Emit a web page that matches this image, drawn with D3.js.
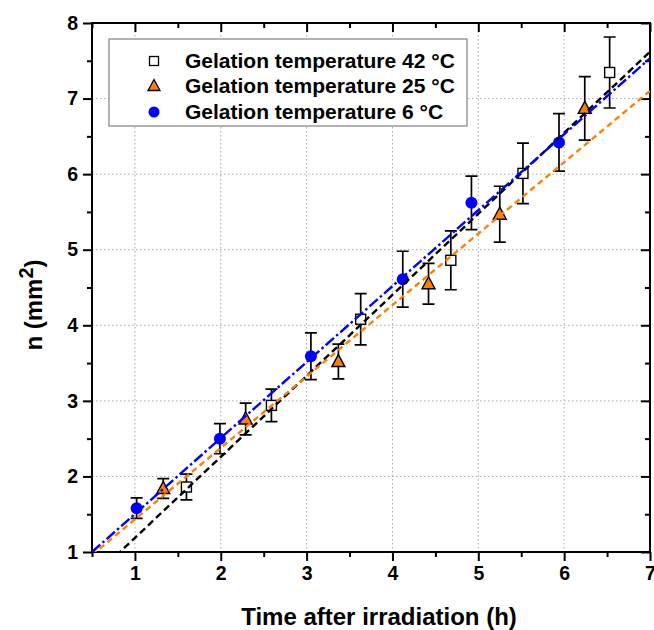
<!DOCTYPE html>
<html>
<head>
<meta charset="utf-8">
<script src="https://cdn.jsdelivr.net/npm/d3@7"></script>
<style>
  body { margin: 0; background: #fff; }
  text { font-family: "Liberation Sans", Arial, sans-serif; font-weight: bold; }
</style>
</head>
<body>
<div id="grafico"></div>
<script>
const margin = { top: 23, left: 92, bottom: 78, right: 4 };
const width  = 654 - margin.left - margin.right;
const height = 630 - margin.top - margin.bottom;

// Gelation temperature 42 °C
const time42 = [1.60, 2.59, 3.63, 4.68, 5.52, 6.53];
const n42    = [1.86, 2.94, 4.08, 4.86, 6.01, 7.345];
const err42  = [0.17, 0.215, 0.34, 0.39, 0.40, 0.47];

// Gelation temperature 25 °C
const time25 = [1.33, 2.29, 3.37, 4.42, 5.25, 6.24];
const n25    = [1.84, 2.76, 3.52, 4.55, 5.47, 6.87];
const err25  = [0.13, 0.21, 0.23, 0.27, 0.37, 0.42];

// Gelation temperature 6 °C
const time6 = [1.02, 1.99, 3.05, 4.12, 4.92, 5.94];
const n6    = [1.58, 2.50, 3.59, 4.61, 5.62, 6.42];
const err6  = [0.135, 0.20, 0.31, 0.37, 0.355, 0.38];

// linear fits: [intercept, slope]
const fit42 = [0.115, 1.072];
const fit25 = [0.487, 0.945];
const fit6  = [0.498, 1.005];

const xTicks = [1, 2, 3, 4, 5, 6, 7];
const yTicks = [1, 2, 3, 4, 5, 6, 7, 8];
const legendLabels = ["Gelation temperature 42 °C", "Gelation temperature 25 °C", "Gelation temperature 6 °C"];

const orange = "#ff8000";
const blue   = "#0000ff";

const svg = d3.select("#grafico")
              .append("svg")
              .attr("width", 654)
              .attr("height", 630)
              .append("g")
              .attr("transform", `translate(${margin.left}, ${margin.top})`);

const xScale = d3.scaleLinear().domain([0.5, 7]).range([0, width]);
const yScale = d3.scaleLinear().domain([1, 8]).range([height, 0]);

svg.append("defs").append("clipPath").attr("id", "clip")
   .append("rect").attr("width", width).attr("height", height);

// grid
const grid = svg.append("g")
                .attr("stroke", "#a8a8a8")
                .attr("stroke-width", 1)
                .attr("stroke-dasharray", "1.5,2.5");
grid.selectAll("line.gx")
    .data(xTicks.filter(d => d < 7))
    .join("line")
    .attr("x1", d => xScale(d)).attr("x2", d => xScale(d))
    .attr("y1", 0).attr("y2", height);
grid.selectAll("line.gy")
    .data(yTicks.filter(d => d > 1 && d < 8))
    .join("line")
    .attr("x1", 0).attr("x2", width)
    .attr("y1", d => yScale(d)).attr("y2", d => yScale(d));

// axes
const minorX = d3.range(0.5, 7.01, 0.5).filter(d => !xTicks.includes(d));
const minorY = d3.range(1.5, 8, 1);

function styleAxis(g) {
    g.select(".domain").remove();
    g.selectAll("line").attr("stroke", "#000").attr("stroke-width", 2);
    g.selectAll("text").attr("font-size", 19.5).attr("fill", "#000");
}

svg.append("g").attr("transform", `translate(0, ${height})`)
   .call(d3.axisBottom(xScale).tickValues(xTicks).tickFormat(d3.format("d")).tickSize(9).tickPadding(5))
   .call(styleAxis);
svg.append("g").attr("transform", `translate(0, ${height})`)
   .call(d3.axisBottom(xScale).tickValues(minorX).tickFormat("").tickSize(5))
   .call(styleAxis);
svg.append("g")
   .call(d3.axisLeft(yScale).tickValues(yTicks).tickFormat(d3.format("d")).tickSize(9).tickPadding(5))
   .call(styleAxis);
svg.append("g")
   .call(d3.axisLeft(yScale).tickValues(minorY).tickFormat("").tickSize(5))
   .call(styleAxis);
// top and right: ticks inward
svg.append("g")
   .call(d3.axisTop(xScale).tickValues(xTicks).tickFormat("").tickSize(-9))
   .call(styleAxis);
svg.append("g")
   .call(d3.axisTop(xScale).tickValues(minorX).tickFormat("").tickSize(-5))
   .call(styleAxis);
svg.append("g").attr("transform", `translate(${width}, 0)`)
   .call(d3.axisRight(yScale).tickValues(yTicks).tickFormat("").tickSize(-9))
   .call(styleAxis);
svg.append("g").attr("transform", `translate(${width}, 0)`)
   .call(d3.axisRight(yScale).tickValues(minorY).tickFormat("").tickSize(-5))
   .call(styleAxis);

svg.append("rect")
   .attr("width", width).attr("height", height)
   .attr("fill", "none").attr("stroke", "#000").attr("stroke-width", 2);

// error bars and markers
const series = [
    { t: time42, n: n42, e: err42, type: "square" },
    { t: time25, n: n25, e: err25, type: "triangle" },
    { t: time6,  n: n6,  e: err6,  type: "circle" }
];

const capW = 6;
series.forEach(s => {
    const pts = s.t.map((t, i) => ({ x: t, y: s.n[i], e: s.e[i] }));
    const eb = svg.append("g").attr("stroke", "#000").attr("stroke-width", 1.7).attr("fill", "none");
    eb.selectAll("path")
      .data(pts)
      .join("path")
      .attr("d", d => {
          const x = xScale(d.x), y1 = yScale(d.y + d.e), y2 = yScale(d.y - d.e);
          return `M${x},${y1}V${y2}M${x - capW},${y1}H${x + capW}M${x - capW},${y2}H${x + capW}`;
      });
    drawMarkers(svg.append("g"), pts, s.type);
});

function drawMarkers(g, pts, type) {
    if (type === "square") {
        g.selectAll("rect").data(pts).join("rect")
         .attr("x", d => xScale(d.x) - 5).attr("y", d => yScale(d.y) - 5)
         .attr("width", 10).attr("height", 10)
         .attr("fill", "#fff").attr("stroke", "#000").attr("stroke-width", 1.4);
    } else if (type === "triangle") {
        g.selectAll("path").data(pts).join("path")
         .attr("transform", d => `translate(${xScale(d.x)}, ${yScale(d.y)})`)
         .attr("d", "M0,-7L6.5,5L-6.5,5Z")
         .attr("fill", orange).attr("stroke", "#000").attr("stroke-width", 1.4);
    } else {
        g.selectAll("circle").data(pts).join("circle")
         .attr("cx", d => xScale(d.x)).attr("cy", d => yScale(d.y))
         .attr("r", 6).attr("fill", blue);
    }
}

// fit lines
const fits = [
    { f: fit42, color: "#000", dash: "7,4" },
    { f: fit25, color: orange, dash: "6,4" },
    { f: fit6,  color: blue,   dash: "11,3,2.5,3" }
];
const fitG = svg.append("g").attr("clip-path", "url(#clip)");
fitG.selectAll("line")
    .data(fits)
    .join("line")
    .attr("x1", xScale(0.5)).attr("x2", xScale(7))
    .attr("y1", d => yScale(d.f[0] + d.f[1] * 0.5))
    .attr("y2", d => yScale(d.f[0] + d.f[1] * 7))
    .attr("stroke", d => d.color)
    .attr("stroke-width", 2.4)
    .attr("stroke-dasharray", d => d.dash);

// legend
const lx = 109 - margin.left, ly = 39 - margin.top;
const legend = svg.append("g").attr("transform", `translate(${lx}, ${ly})`);
legend.append("rect")
      .attr("width", 358).attr("height", 87)
      .attr("fill", "#fff").attr("stroke", "#808080").attr("stroke-width", 1.2);
const rowY = [22, 47, 73];
legendLabels.forEach((lab, i) => {
    const row = legend.append("g").attr("transform", `translate(0, ${rowY[i]})`);
    drawLegendSymbol(row, series[i].type);
    row.append("text")
       .attr("x", 76).attr("y", 7)
       .attr("font-size", 21)
       .text(lab);
});

function drawLegendSymbol(g, type) {
    const cx = 45;
    if (type === "square") {
        g.append("rect").attr("x", cx - 4.5).attr("y", -4.5).attr("width", 9).attr("height", 9)
         .attr("fill", "#fff").attr("stroke", "#000").attr("stroke-width", 1.3);
    } else if (type === "triangle") {
        g.append("path").attr("transform", `translate(${cx}, 0)`)
         .attr("d", "M0,-6.5L6,4.5L-6,4.5Z")
         .attr("fill", orange).attr("stroke", "#000").attr("stroke-width", 1.3);
    } else {
        g.append("circle").attr("cx", cx).attr("cy", 0).attr("r", 5.5).attr("fill", blue);
    }
}

// axis titles
svg.append("text")
   .attr("x", 379 - margin.left).attr("y", 625 - margin.top)
   .attr("text-anchor", "middle")
   .attr("font-size", 24)
   .text("Time after irradiation (h)");

const yTitle = svg.append("text")
   .attr("transform", `translate(${42 - margin.left}, ${305 - margin.top}) rotate(-90)`)
   .attr("text-anchor", "middle")
   .attr("font-size", 24);
yTitle.append("tspan").text("n (mm");
yTitle.append("tspan").attr("font-size", 20).attr("dy", -9).text("2");
yTitle.append("tspan").attr("dy", 9).text(")");
</script>
</body>
</html>
